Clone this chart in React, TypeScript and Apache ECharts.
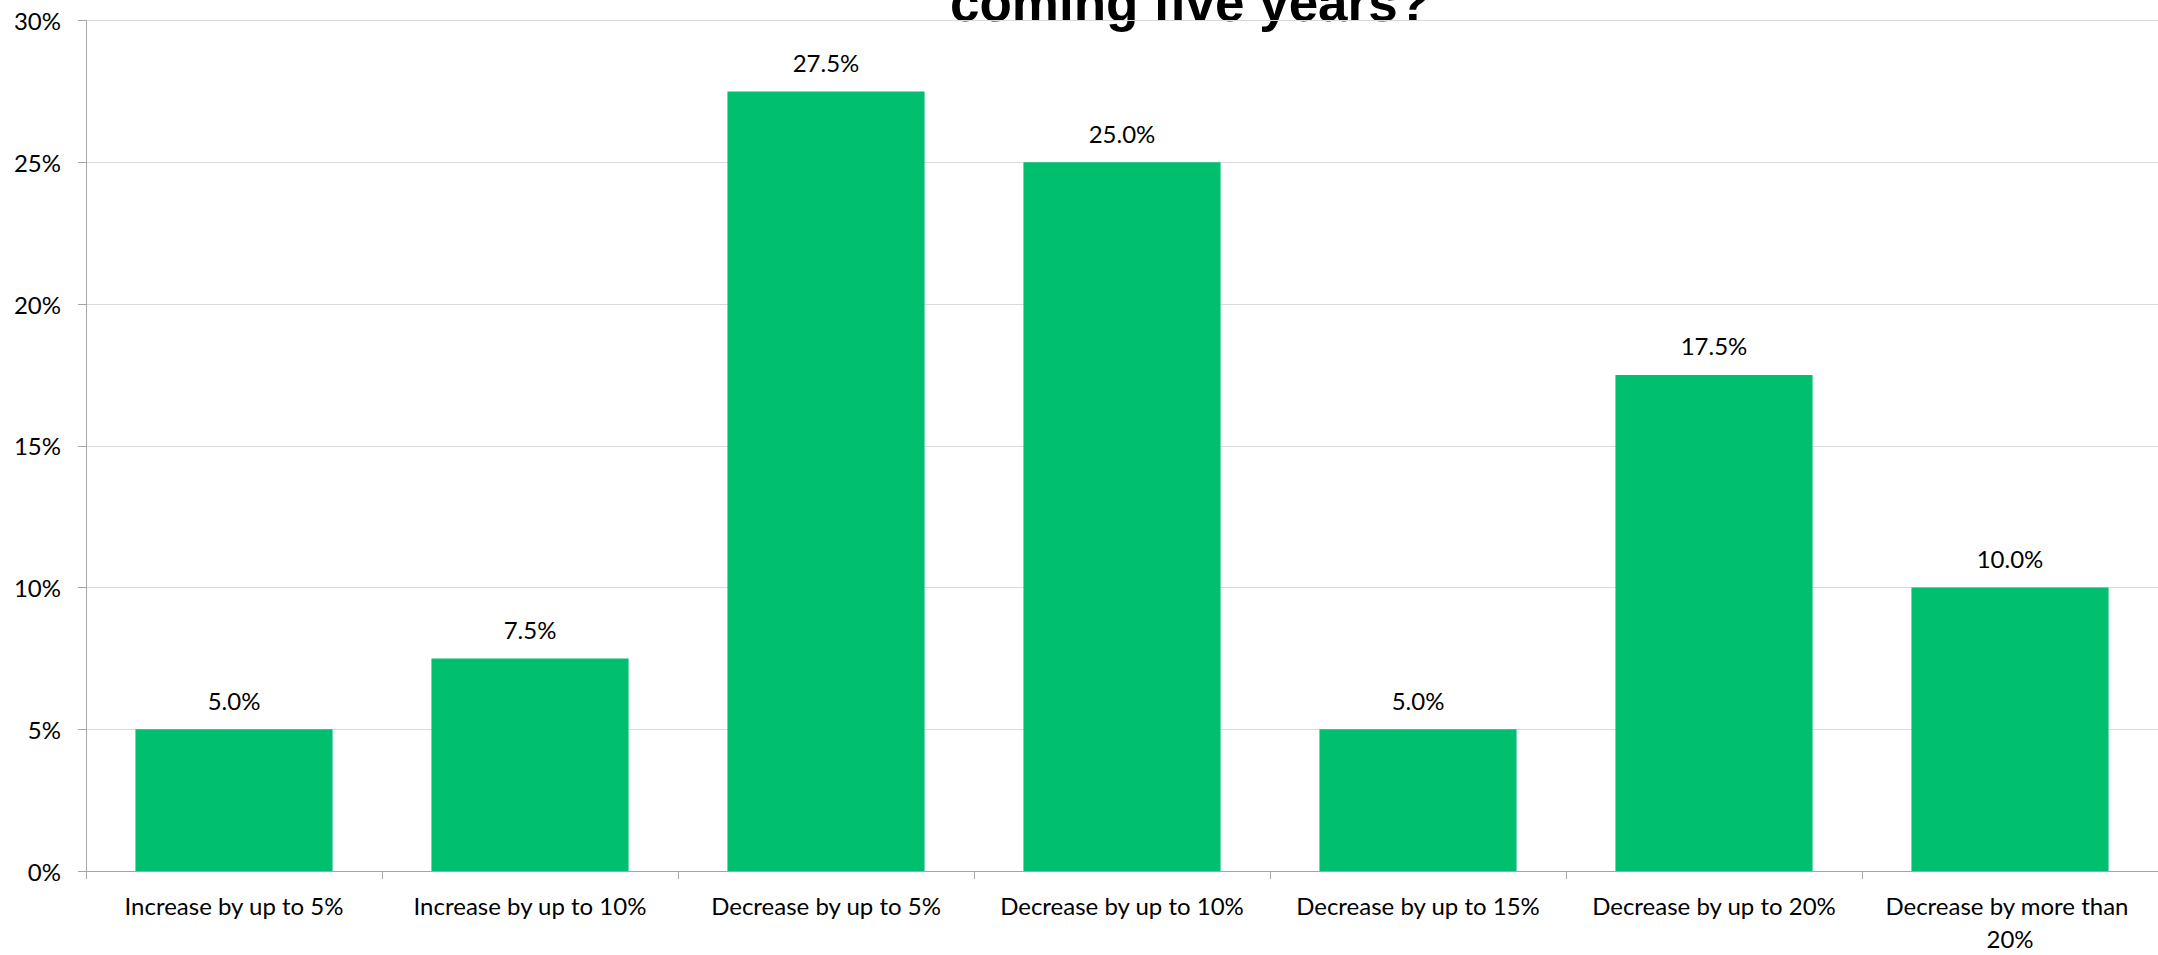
import React, { useEffect, useRef } from "react";
import * as echarts from "echarts";

const categories = [
  "Increase by up to 5%",
  "Increase by up to 10%",
  "Decrease by up to 5%",
  "Decrease by up to 10%",
  "Decrease by up to 15%",
  "Decrease by up to 20%",
  "Decrease by more than 20%",
];
const values = [5.0, 7.5, 27.5, 25.0, 5.0, 17.5, 10.0];
const yMin = 0;
const yMax = 30;
const yInterval = 5;
const titleText = "coming five years?";

export default function App() {
  const ref = useRef<HTMLDivElement>(null);
  useEffect(() => {
    document.body.style.margin = "0";
    document.body.style.overflow = "hidden";
    if (!ref.current) return;
    const chart = echarts.init(ref.current, undefined, { renderer: "svg" });
    const font = "Lato";
    chart.setOption({
      animation: false,
      backgroundColor: "#ffffff",
      textStyle: { fontFamily: font },
      graphic: [
        {
          type: "text",
          x: 1190,
          y: 2.6,
          style: {
            text: titleText,
            fontFamily: "Liberation Sans",
            fontWeight: "bold",
            fontSize: 53,
            fill: "#000000",
            align: "center",
            verticalAlign: "middle",
          },
        },
      ],
      grid: { left: 86, top: 20.5, width: 2091.6, height: 857.5, containLabel: false },
      xAxis: {
        type: "category",
        data: categories,
        axisLine: { show: true, lineStyle: { color: "#a6a6a6", width: 1 } },
        axisTick: { show: true, length: 8, lineStyle: { color: "#a6a6a6" } },
        axisLabel: {
          color: "#000000",
          fontFamily: font,
          fontSize: 24,
          lineHeight: 33,
          margin: 18,
          interval: 0,
          width: 270,
          overflow: "break",
        },
      },
      yAxis: {
        type: "value",
        min: yMin,
        max: yMax,
        interval: yInterval,
        axisLine: { show: true, lineStyle: { color: "#a6a6a6", width: 1 } },
        axisTick: { show: true, length: 8, lineStyle: { color: "#a6a6a6" } },
        splitLine: { show: true, lineStyle: { color: "#d9d9d9", width: 1 } },
        axisLabel: {
          color: "#000000",
          fontFamily: font,
          fontSize: 24,
          margin: 25,
          formatter: "{value}%",
        },
      },
      series: [
        {
          type: "bar",
          data: values,
          barCategoryGap: "33.4%",
          itemStyle: { color: "#00BF6F" },
          label: {
            show: true,
            position: "top",
            distance: 17,
            color: "#000000",
            fontFamily: font,
            fontSize: 24,
            lineHeight: 24,
            formatter: (p: any) => Number(p.value).toFixed(1) + "%",
          },
        },
      ],
    });
    return () => chart.dispose();
  }, []);
  return (
    <div
      style={{
        position: "fixed",
        left: 0,
        top: 0,
        width: 2158,
        height: 955,
        overflow: "hidden",
      }}
    >
      <div ref={ref} style={{ width: 2158, height: 955 }} />
    </div>
  );
}
